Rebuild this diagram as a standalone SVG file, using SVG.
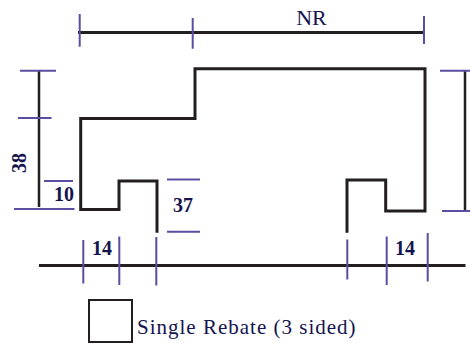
<svg xmlns="http://www.w3.org/2000/svg" width="470" height="343" viewBox="0 0 470 343">
<style>
.k{fill:none;stroke:#231f20;stroke-linecap:butt;stroke-linejoin:miter}
.t{fill:none;stroke:#5b4ea2;stroke-width:2}
text{font-family:"Liberation Serif",serif;fill:#14144f}
.b{font-weight:bold;font-size:20px}
.r{font-size:21px}
</style>
<rect width="470" height="343" fill="#fff"/>
<g id="connectors">
<path class="k" stroke-width="3" d="M78 32.5H423.5"/>
<path class="k" stroke-width="2.5" d="M39 71V207M465 71V211"/>
<path class="k" stroke-width="3" d="M39 265.5H465.5"/>
<path class="t" d="M79.7 14V46.7M192.7 18V48.7M424 16V44M20 70.7H56M18 118H51.5M14 209H74.5M44 181H73M167 179.5H200M167 231.7H200M440 70.7H470M442 211H470M83.3 240V283.5M119.3 236.5V285M156.3 237V285.5M347.3 239.5V279.5M386.7 236.5V285M427.7 233V281.5"/>
</g>
<g id="profile">
<path class="k" stroke-width="3" d="M157 232.7V181H119V209.5H80.7V118.5H195V68.7H425V211H385.7V180H347V232.7"/>
</g>
<g id="labels">
<text x="311.5" y="25" text-anchor="middle" style="font-size:22px">NR</text>
<text class="b" text-anchor="middle" transform="translate(26,163) rotate(-90)">38</text>
<text x="64" y="201" class="b" text-anchor="middle">10</text>
<text x="183" y="212" class="b" text-anchor="middle">37</text>
<text x="102" y="255" class="b" text-anchor="middle">14</text>
<text x="405" y="255" class="b" text-anchor="middle">14</text>
</g>
<g id="legend">
<rect class="k" stroke-width="2" x="89" y="300" width="43" height="42"/>
<text x="137" y="334" class="r" letter-spacing="1">Single Rebate (3 sided)</text>
</g>
</svg>
